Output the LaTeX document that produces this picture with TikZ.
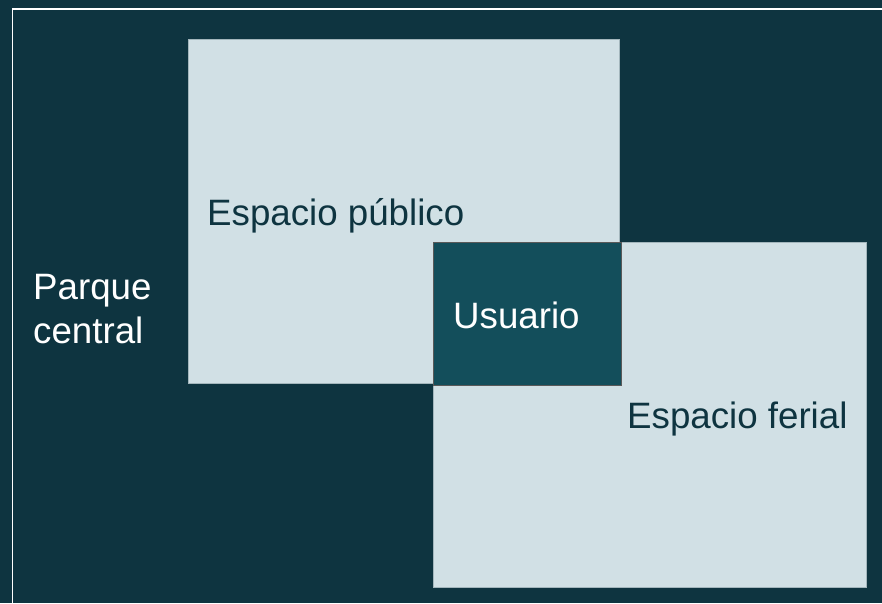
\documentclass[tikz,border=0pt]{standalone}
\usepackage{fontspec}
\setmainfont{Liberation Sans}
\definecolor{fondo}{HTML}{0E3440}
\definecolor{claro}{HTML}{D1E0E5}
\definecolor{borde}{HTML}{A3B6BC}
\definecolor{usuario}{HTML}{134E5B}
\definecolor{marco}{HTML}{595959}
\tikzset{
  zona/.style={rectangle, fill=claro, draw=borde, line width=0.6pt, anchor=north west, inner sep=0pt},
  etiqueta/.style={anchor=base west, inner sep=0pt, font=\fontsize{36.7}{44}\selectfont}
}
\begin{document}
\begin{tikzpicture}[x=1pt,y=-1pt]
    \useasboundingbox (0,0) rectangle (882,603);
    \fill[fondo] (0,0) rectangle (882,603);
    \draw[white, line width=1.5pt] (900,9) -- (12.5,9) -- (12.5,620);
    
    \node[zona, minimum width=431pt, minimum height=344pt] (A) at (188,39) {};
    \node[zona, minimum width=433pt, minimum height=345pt] (B) at (433,242) {};
    \node[zona, fill=usuario, draw=marco, line width=1.2pt, minimum width=188pt, minimum height=143pt] (C) at (433,242) {};
    
    \node[etiqueta, text=fondo] (a) at (207,225) {Espacio público};
    \node[etiqueta, text=fondo] (b) at (627,428) {Espacio ferial};
    \node[etiqueta, text=white] (c) at (453,328) {Usuario};
    \node[etiqueta, text=white] (p) at (33,299) {Parque};
    \node[etiqueta, text=white] (q) at (33,343) {central};
\end{tikzpicture}
\end{document}
